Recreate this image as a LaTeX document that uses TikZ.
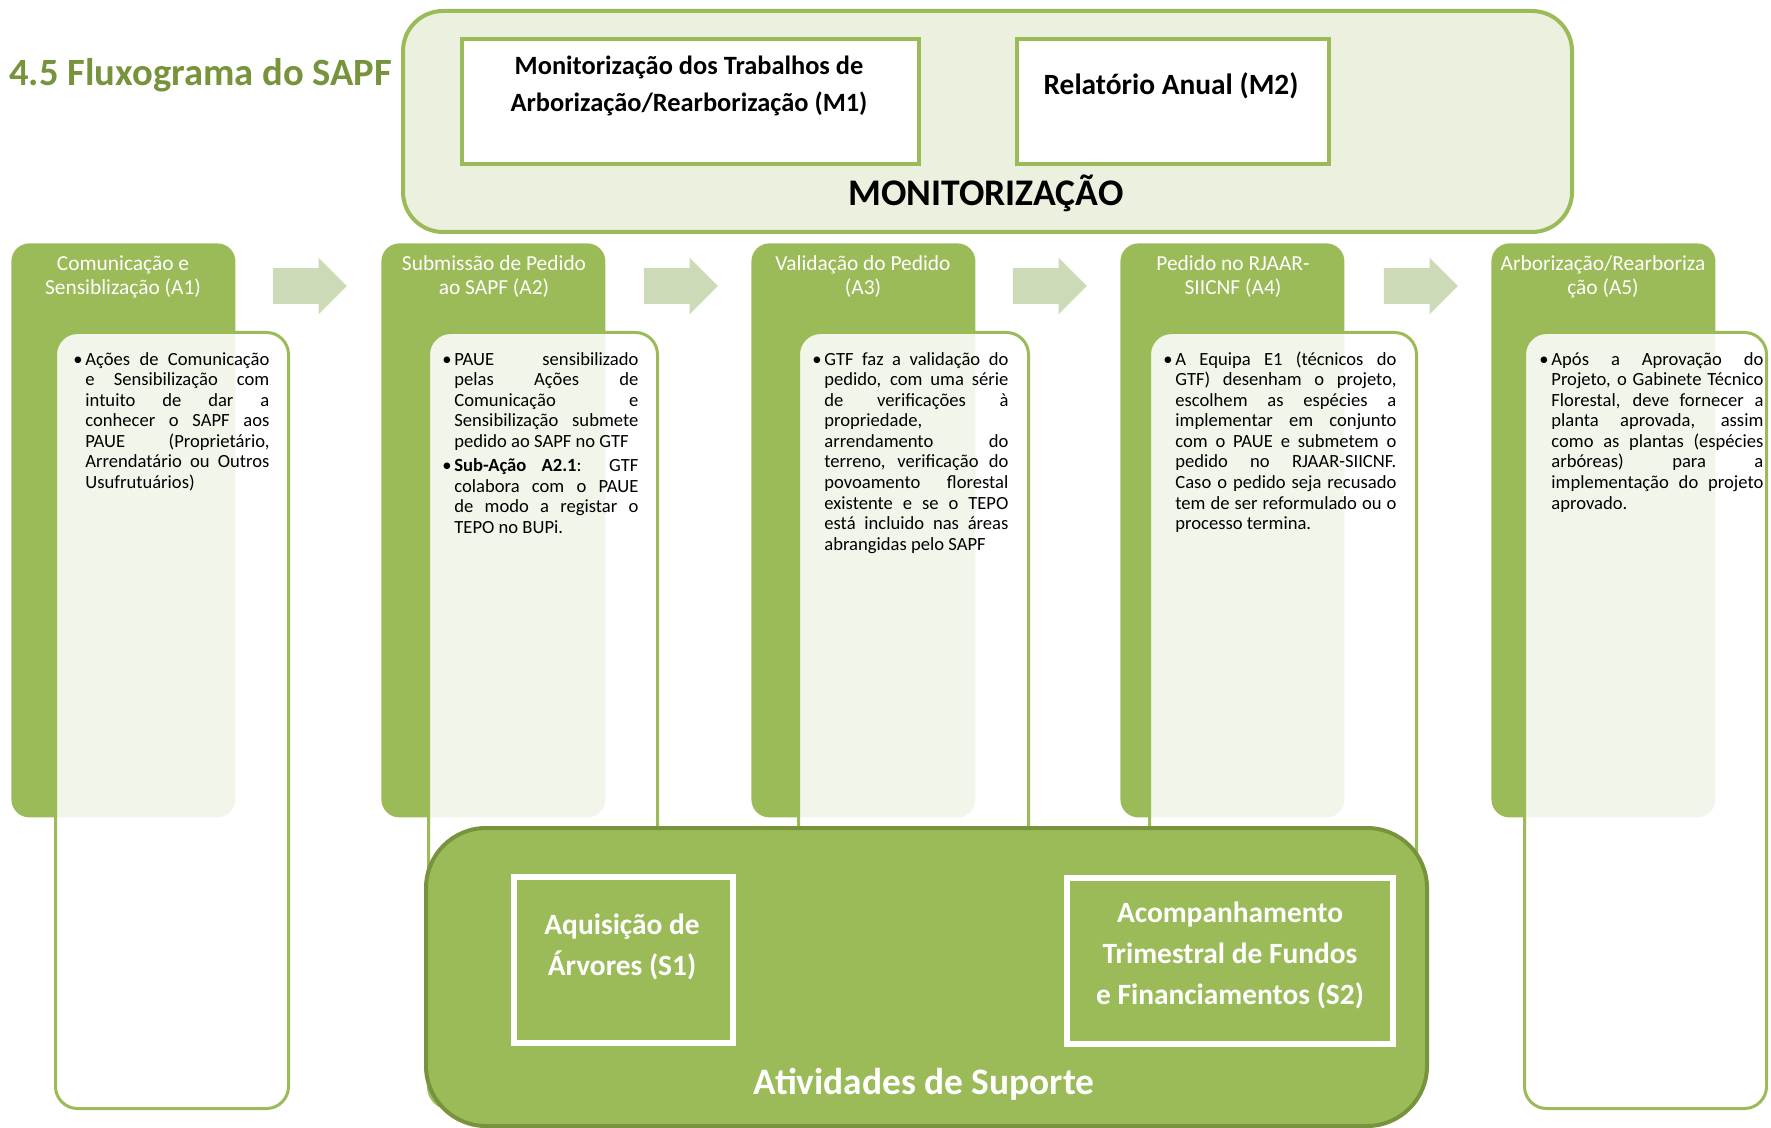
\documentclass[tikz,border=0pt]{standalone}
\usepackage{fontspec}
\setmainfont{Carlito}
\usetikzlibrary{shapes.arrows,shadows}
\definecolor{sapfgreen}{HTML}{9BBB59}
\definecolor{sapfdark}{HTML}{77933C}
\definecolor{sapflight}{HTML}{EBF1DE}
\definecolor{sapfarrow}{HTML}{CCDAB7}
\newcommand{\bul}[1]{\par\noindent\makebox[6pt][l]{\textbullet}\vtop{\advance\hsize-6pt\noindent#1\par}}
\tikzset{
  tabbox/.style={rectangle, rounded corners=9pt, fill=sapfgreen, anchor=north west,
    minimum width=112pt, minimum height=287pt, inner sep=0pt},
  tabtxt/.style={text=white, align=center, inner sep=0pt, font=\fontsize{10.7}{12}\selectfont},
  cardbox/.style={rectangle, rounded corners=11pt, draw=sapfgreen, line width=1.5pt,
    fill=white, fill opacity=0.88, anchor=north west, minimum height=388pt, inner sep=0pt},
  cardtxt/.style={anchor=north west, align=justify, inner sep=0pt,
    font=\fontsize{9.3}{10.3}\selectfont,
    execute at begin node={\hyphenpenalty=10000\relax\tolerance=10000\relax}},
  flowarr/.style={single arrow, fill=sapfarrow, inner sep=0pt, text height=17.5pt,
    text depth=0pt, minimum height=37pt, single arrow head extend=5.25pt},
  monbox/.style={rectangle, rounded corners=20pt, draw=sapfgreen, line width=2pt,
    fill=sapflight, anchor=north west, minimum width=584.5pt, minimum height=110.5pt},
  mbox/.style={rectangle, draw=sapfgreen, line width=2pt, fill=white, anchor=north west,
    minimum height=62.5pt},
  mtxt/.style={align=center, inner sep=0pt, font=\fontsize{13.2}{18.5}\selectfont\bfseries},
  supbox/.style={rectangle, rounded corners=30pt, draw=sapfdark, line width=2pt,
    fill=sapfgreen, anchor=north west, minimum width=500.5pt, minimum height=149pt},
  sbox/.style={rectangle, draw=white, line width=3pt, fill=sapfgreen, anchor=north west,
    minimum height=83pt, drop shadow={shadow xshift=1pt, shadow yshift=-1.5pt, opacity=0.35}},
  stxt/.style={text=white, align=center, inner sep=0pt, font=\fontsize{14.7}{20.5}\selectfont\bfseries}
}
\begin{document}
\begin{tikzpicture}[x=0.5pt,y=-0.5pt]
  \useasboundingbox (0,0) rectangle (1771,1128);
  % title and monitoring block
  \node[anchor=west, inner sep=0pt, text=sapfdark, font=\fontsize{19.3}{22}\selectfont\bfseries] (title) at (9,75) {4.5 Fluxograma do SAPF};
  \node[monbox] (mon) at (401,9) {};
  \node[mbox, minimum width=228.5pt] (m1) at (460,37) {};
  \node[mbox, minimum width=156pt] (m2) at (1015,37) {};
  \node[mtxt] (m1t) at (689,86) {Monitorização dos Trabalhos de\\Arborização/Rearborização (M1)};
  \node[mtxt, font=\fontsize{14.7}{18.5}\selectfont\bfseries] (m2t) at (1171,86) {Relatório Anual (M2)};
  \node[inner sep=0pt, font=\fontsize{18.8}{22}\selectfont\bfseries] (montit) at (986,193) {MONITORIZAÇÃO};
  % flow arrows
  \foreach \x [count=\i] in {301,672,1041,1412}
    \node[flowarr] (ar\i) at (\x,286) {};
  % activity tabs and cards
  \foreach \x [count=\i] in {11,381,751,1120,1491}
    \node[tabbox] (tab\i) at (\x,243) {};
  \foreach \x/\t [count=\i] in {123/{Comunicação e\\Sensiblização (A1)},
      494/{Submissão de Pedido\\ao SAPF (A2)}, 863/{Validação do Pedido\\(A3)},
      1233/{Pedido no RJAAR-\\SIICNF (A4)}, 1603/{Arborização/Rearboriza\\ção (A5)}}
    \node[tabtxt] (lab\i) at (\x,277) {\t};
  \foreach \x/\w [count=\i] in {54/116.5,427/114.5,797/115,1148/133.5,1523/121}
    \node[cardbox, minimum width=\w pt] (card\i) at (\x,331) {};
  \node[cardtxt, text width=98pt] (txt1) at (73,344) {\bul{Ações de Comunicação\linebreak
    e Sensibilização com\linebreak intuito de dar a\linebreak conhecer o SAPF aos\linebreak
    PAUE (Proprietário,\linebreak Arrendatário ou Outros\linebreak Usufrutuários)}};
  \node[cardtxt, text width=98pt] (txt2) at (442,344) {\bul{PAUE sensibilizado\linebreak
    pelas Ações de\linebreak Comunicação e\linebreak Sensibilização submete\linebreak
    pedido ao SAPF no GTF}\par\vspace{3pt}
    \bul{\textbf{Sub-Ação A2.1}: GTF\linebreak colabora com o PAUE\linebreak
    de modo a registar o\linebreak TEPO no BUPi.}};
  \node[cardtxt, text width=98pt] (txt3) at (812,344) {\bul{GTF faz a validação do\linebreak
    pedido, com uma série\linebreak de verificações à\linebreak propriedade,\linebreak
    arrendamento do\linebreak terreno, verificação do\linebreak povoamento florestal\linebreak
    existente e se o TEPO\linebreak está incluido nas áreas\linebreak abrangidas pelo SAPF}};
  \node[cardtxt, text width=116.5pt] (txt4) at (1163,344) {\bul{A Equipa E1 (técnicos do\linebreak
    GTF) desenham o projeto,\linebreak escolhem as espécies a\linebreak
    implementar em conjunto\linebreak com o PAUE e submetem o\linebreak
    pedido no RJAAR-SIICNF.\linebreak Caso o pedido seja recusado\linebreak
    tem de ser reformulado ou o\linebreak processo termina.}};
  \node[cardtxt, text width=112pt] (txt5) at (1539,344) {\bul{Após a Aprovação do\linebreak
    Projeto, o Gabinete Técnico\linebreak Florestal, deve fornecer a\linebreak
    planta aprovada, assim\linebreak como as plantas (espécies\linebreak
    arbóreas) para a\linebreak implementação do projeto\linebreak aprovado.}};
  % support block
  \node[supbox] (sup) at (424,826) {};
  \node[sbox, minimum width=109.5pt] (s1) at (511,874) {};
  \node[sbox, minimum width=163pt] (s2) at (1064,875) {};
  \node[stxt] (s1t) at (622,947) {Aquisição de\\Árvores (S1)};
  \node[stxt] (s2t) at (1230,955) {Acompanhamento\\Trimestral de Fundos\\e Financiamentos (S2)};
  \node[text=white, inner sep=0pt, font=\fontsize{18.7}{22}\selectfont\bfseries] (suptit) at (924,1084) {Atividades de Suporte};
\end{tikzpicture}
\end{document}
